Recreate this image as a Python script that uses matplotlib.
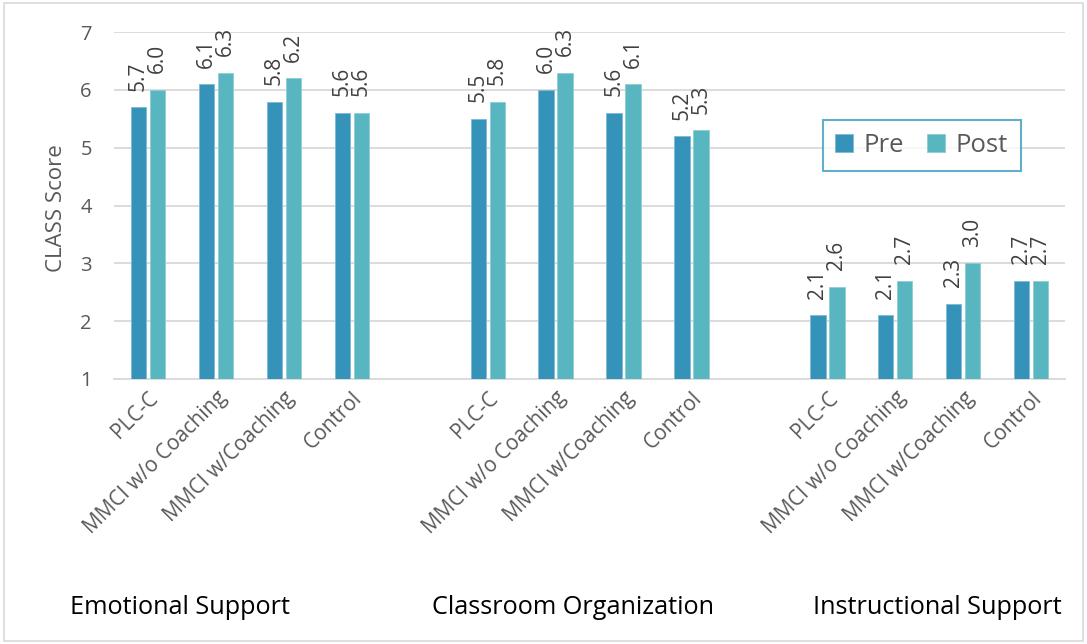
import matplotlib
matplotlib.use("Agg")
import matplotlib.pyplot as plt
from matplotlib.patches import Rectangle
import numpy as np

plt.rcParams['font.family'] = ['Open Sans', 'DejaVu Sans']

groups = ["Emotional Support", "Classroom Organization", "Instructional Support"]
conditions = ["PLC-C", "MMCI w/o Coaching", "MMCI w/Coaching", "Control"]
pre = [5.7, 6.1, 5.8, 5.6, 5.5, 6.0, 5.6, 5.2, 2.1, 2.1, 2.3, 2.7]
post = [6.0, 6.3, 6.2, 5.6, 5.8, 6.3, 6.1, 5.3, 2.6, 2.7, 3.0, 2.7]

pre_color = "#3593BA"
post_color = "#58B6C0"
text_gray = "#595959"

fig = plt.figure(figsize=(10.87, 6.44), dpi=100)
fig.patches.append(Rectangle((0.004, 0.004), 0.992, 0.992, transform=fig.transFigure,
                             fill=False, edgecolor="#D9D9D9", linewidth=1.2))
ax = fig.add_axes([0.1049, 0.4115, 0.875, 0.5385])

# positions: 4 categories per group with one empty slot between groups
pos = []
for g in range(len(groups)):
    for c in range(len(conditions)):
        pos.append(g * 5 + c)
pos = np.array(pos, dtype=float)

w = 0.225
off = 0.14
ax.bar(pos - off, np.array(pre) - 1, w, bottom=1, color=pre_color, label="Pre",
       edgecolor="#7FB8D4", linewidth=0.6, zorder=3)
ax.bar(pos + off, np.array(post) - 1, w, bottom=1, color=post_color, label="Post",
       edgecolor="#8CCDD4", linewidth=0.6, zorder=3)

for xs, vals in ((pos - off, pre), (pos + off, post)):
    for x, v in zip(xs, vals):
        ax.annotate(f"{v:.1f}", (x, v), xytext=(0, 12), textcoords="offset points",
                    rotation=90, ha="center", va="bottom", fontsize=15, color="#404040")

ax.set_xlim(-0.5, 13.5)
ax.set_ylim(1, 7)
ax.set_yticks(range(1, 8))
ax.yaxis.grid(True, color="#D9D9D9", linewidth=1.3, zorder=0)
ax.set_axisbelow(True)
for s in ["top", "right", "left"]:
    ax.spines[s].set_visible(False)
ax.spines["bottom"].set_color("#D9D9D9")
ax.spines["bottom"].set_linewidth(1.3)
ax.tick_params(axis="y", length=0, labelsize=14.5, labelcolor=text_gray, pad=16)
ax.tick_params(axis="x", length=0, labelsize=15, labelcolor=text_gray, pad=6)
ax.set_xticks(pos)
ax.set_xticklabels(conditions * len(groups), rotation=45, ha="right", rotation_mode="anchor")

fig.text(57 / 1087, 1 - 208 / 644, "CLASS Score", rotation=90, fontsize=16,
         color=text_gray, ha="center", va="center")

leg = ax.legend(loc="upper left", bbox_to_anchor=(0.745, 0.746), ncol=2, fontsize=18.5,
                frameon=True, fancybox=False, handlelength=0.7, handleheight=0.7,
                handletextpad=0.4, columnspacing=0.9, borderpad=0.5, borderaxespad=0)
leg.get_frame().set_edgecolor("#3A9AC4")
leg.get_frame().set_linewidth(1.5)
for t in leg.get_texts():
    t.set_color(text_gray)

group_x = [70, 432, 813]
for gx, name in zip(group_x, groups):
    fig.text(gx / 1087, 1 - 608 / 644, name, fontsize=18.2, color="black",
             ha="left", va="center")

fig.savefig("out.png", dpi=100)
